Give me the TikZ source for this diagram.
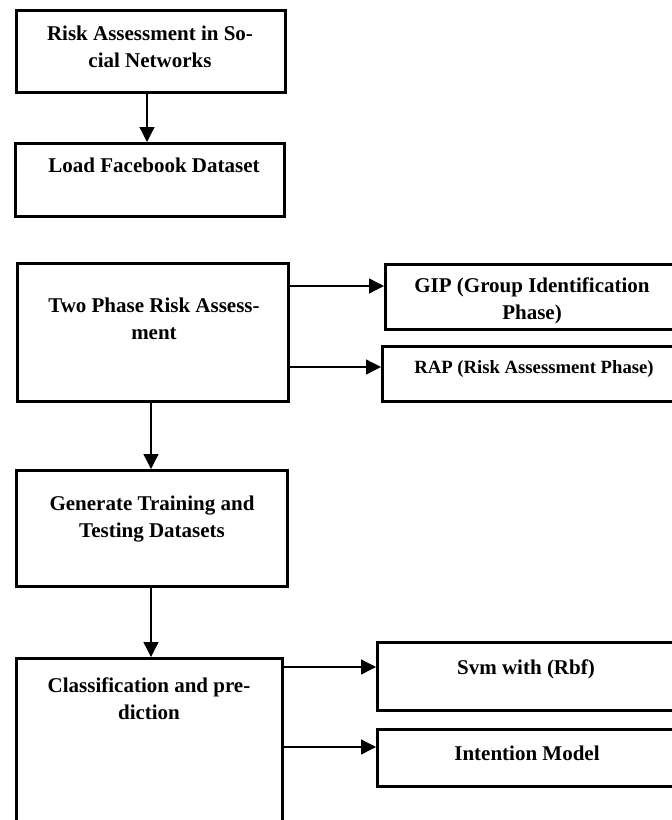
\documentclass[tikz,border=0pt]{standalone}
\usepackage{fontspec}
\setmainfont{Liberation Serif}
\usetikzlibrary{arrows.meta}
\begin{document}
\begin{tikzpicture}[x=1pt,y=-1pt,
  box/.style={draw,line width=2.6pt,inner sep=0pt,anchor=north west},
  arr/.style={line width=1.3pt,-{Triangle[length=15pt,width=15pt]}},
  txt/.style={font=\fontsize{21}{27}\selectfont\bfseries,align=center,inner sep=0pt,anchor=base},
  stxt/.style={font=\fontsize{18.7}{24}\selectfont\bfseries,align=center,inner sep=0pt,anchor=base}]
\useasboundingbox (0,0) rectangle (672,820);
\clip (0,0) rectangle (672,820);
% boxes
\node[box,minimum width=269.4pt,minimum height=82.4pt] (b1) at (15,9) {};
\node[box,minimum width=269.4pt,minimum height=73.4pt] (b2) at (14,142) {};
\node[box,minimum width=271.4pt,minimum height=138.4pt] (b3) at (16,262) {};
\node[box,minimum width=307.4pt,minimum height=65.4pt] (gip) at (384,263) {};
\node[box,minimum width=310.4pt,minimum height=55.4pt] (rap) at (381,345) {};
\node[box,minimum width=271.4pt,minimum height=116.4pt] (b4) at (15,469) {};
\node[box,minimum width=266.4pt,minimum height=197.4pt] (b5) at (15,657) {};
\node[box,minimum width=315.4pt,minimum height=68.4pt] (svm) at (376,641) {};
\node[box,minimum width=315.4pt,minimum height=57.4pt] (intm) at (376,728) {};
% texts (base anchor = baseline of last line)
\node[txt] (t1) at (150,67) {Risk Assessment in So-\\cial Networks};
\node[txt] (t2) at (154,172) {Load Facebook Dataset};
\node[txt] (t3) at (154,339) {Two Phase Risk Assess-\\ment};
\node[txt] (tg) at (532,319) {GIP (Group Identification\\Phase)};
\node[stxt] (tr) at (534,373) {RAP (Risk Assessment Phase)};
\node[txt] (t4) at (152,537) {Generate Training and\\Testing Datasets};
\node[txt] (t5) at (149,719) {Classification and pre-\\diction};
\node[txt] (ts) at (526,674) {Svm with (Rbf)};
\node[txt] (ti) at (527,760) {Intention Model};
% connectors
\draw[arr] ([xshift=-4pt]b1.south) -- ([xshift=-4pt]b1.south |- b2.north);
\draw[arr] ([yshift=11pt]gip.west -| b3.east) -- ([yshift=11pt]gip.west);
\draw[arr] ([yshift=7pt]rap.west -| b3.east) -- ([yshift=7pt]rap.west);
\draw[arr] ([xshift=-2pt]b3.south) -- ([xshift=-2pt]b3.south |- b4.north);
\draw[arr] ([xshift=-1pt]b4.south) -- ([xshift=-1pt]b4.south |- b5.north);
\draw[arr] ([yshift=9.5pt]svm.west -| b5.east) -- ([yshift=9.5pt]svm.west);
\draw[arr] ([yshift=11pt]intm.west -| b5.east) -- ([yshift=11pt]intm.west);
\end{tikzpicture}
\end{document}
